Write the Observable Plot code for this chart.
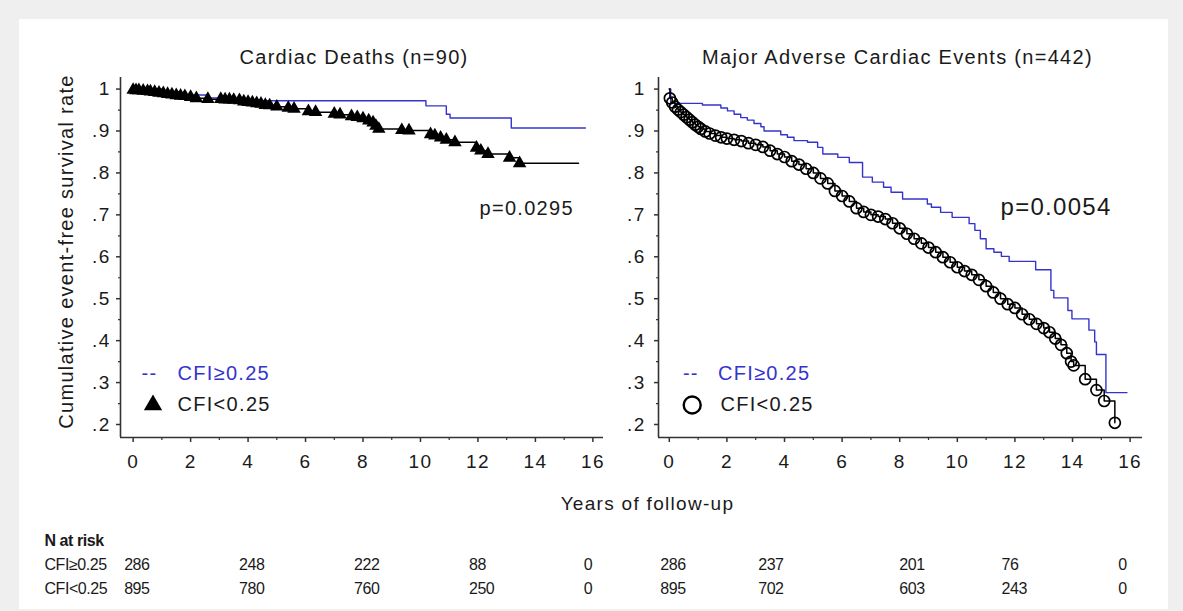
<!DOCTYPE html>
<html><head><meta charset="utf-8">
<script src="https://cdn.jsdelivr.net/npm/d3@7"></script>
<script src="https://cdn.jsdelivr.net/npm/@observablehq/plot@0.6"></script>
<style>
html,body{margin:0;padding:0;background:#efefef;width:1183px;height:611px;overflow:hidden;font-family:"Liberation Sans",Arial,Helvetica,sans-serif;}
#sheet{position:absolute;left:19px;top:19px;width:1149px;height:590px;background:#fff;}
.abs{position:absolute;}
.abs svg{overflow:visible;display:block;}
svg text{letter-spacing:1.3px;}
#tblL svg text,#tblR svg text{letter-spacing:-0.45px;}
#xlabel{position:absolute;left:447.5px;width:400px;top:494px;text-align:center;font-size:19px;line-height:19px;letter-spacing:1.3px;color:#1a1a1a;}
</style></head>
<body>
<div id="sheet"></div>
<div id="pL" class="abs" style="left:0;top:0;width:620px;height:480px"></div>
<div id="pR" class="abs" style="left:620px;top:0;width:563px;height:480px"></div>
<div id="xlabel">Years of follow-up</div>
<div id="tblL" class="abs" style="left:0;top:520px;width:620px;height:85px"></div>
<div id="tblR" class="abs" style="left:620px;top:520px;width:563px;height:85px"></div>
<script>
// ---------- data ----------
const groups = ["CFI≥0.25", "CFI<0.25"];
const titles = ["Cardiac Deaths (n=90)", "Major Adverse Cardiac Events (n=442)"];
const pValues = ["p=0.0295", "p=0.0054"];
const yAxisLabel = "Cumulative event-free survival rate";
const xTickMajor = [0, 2, 4, 6, 8, 10, 12, 14, 16];
const xTickMinor = [1, 3, 5, 7, 9, 11, 13, 15];
const yTickMajor = [0.2, 0.3, 0.4, 0.5, 0.6, 0.7, 0.8, 0.9, 1.0];
const yTickMinor = [0.25, 0.35, 0.45, 0.55, 0.65, 0.75, 0.85, 0.95];

// Cardiac deaths, CFI>=0.25 (blue step curve)
const cdHighT = [0, 1.0, 1.65, 2.6, 3.0, 4.2, 10.19, 10.9, 11.03, 13.16, 15.74];
const cdHighS = [1.0, 0.994, 0.986, 0.979, 0.974, 0.972, 0.960, 0.94, 0.931, 0.907, 0.907];
// Cardiac deaths, CFI<0.25 (black step curve with triangle marks)
const cdLowMarkT = [0.0, 0.1, 0.2, 0.35, 0.5, 0.6, 0.75, 0.9, 1.05, 1.2, 1.35, 1.5, 1.65, 1.8, 2.0, 2.2, 2.6, 3.05, 3.2, 3.35, 3.5, 3.7, 3.85, 4.0, 4.15, 4.3, 4.45, 4.6, 4.75, 5.0, 5.4, 5.6, 6.1, 6.35, 7.0, 7.2, 7.6, 7.8, 8.0, 8.2, 8.35, 8.45, 8.55, 9.35, 9.6, 10.35, 10.5, 10.7, 10.9, 11.2, 11.95, 12.1, 12.35, 13.1, 13.45];
const cdLowMarkS = [0.998, 0.997, 0.997, 0.996, 0.995, 0.994, 0.993, 0.991, 0.99, 0.988, 0.987, 0.985, 0.984, 0.983, 0.981, 0.978, 0.976, 0.976, 0.975, 0.975, 0.974, 0.973, 0.97, 0.969, 0.968, 0.966, 0.965, 0.962, 0.961, 0.958, 0.955, 0.953, 0.947, 0.945, 0.941, 0.939, 0.935, 0.933, 0.93, 0.925, 0.92, 0.912, 0.905, 0.902, 0.901, 0.892, 0.889, 0.884, 0.879, 0.873, 0.86, 0.853, 0.845, 0.836, 0.823];
const cdLowStart = [0, 1.0];
const cdLowEnd = [15.5, 0.823];

// MACE, CFI>=0.25 (blue)
const maceHighT = [0, 0.05, 1.15, 1.79, 2.02, 2.25, 2.48, 2.71, 2.94, 3.18, 3.29, 3.87, 4.1, 4.33, 4.8, 5.15, 5.33, 5.85, 6.25, 6.71, 7.05, 7.44, 7.7, 8.1, 8.96, 9.1, 9.42, 9.82, 10.41, 10.61, 10.8, 11.0, 11.27, 11.53, 11.8, 12.72, 13.25, 13.35, 13.84, 13.98, 14.57, 14.77, 14.83, 15.16, 15.89];
const maceHighS = [1.0, 0.966, 0.962, 0.955, 0.948, 0.94, 0.932, 0.926, 0.918, 0.91, 0.9, 0.891, 0.885, 0.877, 0.873, 0.861, 0.845, 0.837, 0.825, 0.79, 0.778, 0.766, 0.754, 0.738, 0.726, 0.718, 0.706, 0.694, 0.679, 0.663, 0.643, 0.619, 0.611, 0.601, 0.589, 0.569, 0.52, 0.502, 0.472, 0.452, 0.425, 0.397, 0.367, 0.276, 0.276];
// MACE, CFI<0.25 (black with open circles)
const maceLowT = [0, 0.02, 0.1, 0.2, 0.3, 0.4, 0.5, 0.6, 0.7, 0.8, 0.9, 1.0, 1.1, 1.25, 1.4, 1.6, 1.8, 2.0, 2.25, 2.5, 2.75, 3.0, 3.25, 3.5, 3.75, 4.0, 4.25, 4.5, 4.75, 5.0, 5.25, 5.5, 5.75, 6.0, 6.25, 6.5, 6.75, 7.0, 7.25, 7.5, 7.75, 8.0, 8.25, 8.5, 8.75, 9.0, 9.25, 9.5, 9.75, 10.0, 10.25, 10.5, 10.75, 11.0, 11.25, 11.5, 11.75, 12.0, 12.25, 12.5, 12.75, 13.0, 13.2, 13.4, 13.6, 13.8, 13.95, 14.04, 14.44, 14.83, 15.1, 15.47];
const maceLowS = [1.0, 0.978, 0.968, 0.958, 0.951, 0.945, 0.939, 0.933, 0.927, 0.921, 0.915, 0.91, 0.905, 0.899, 0.894, 0.889, 0.885, 0.882, 0.879, 0.876, 0.871, 0.867, 0.862, 0.853, 0.845, 0.838, 0.828, 0.82, 0.81, 0.80, 0.787, 0.775, 0.757, 0.745, 0.732, 0.716, 0.707, 0.70, 0.696, 0.69, 0.68, 0.668, 0.655, 0.643, 0.632, 0.622, 0.611, 0.599, 0.587, 0.575, 0.566, 0.557, 0.545, 0.53, 0.515, 0.5, 0.487, 0.478, 0.463, 0.451, 0.44, 0.43, 0.42, 0.405, 0.39, 0.37, 0.35, 0.341, 0.308, 0.282, 0.256, 0.204];

// Numbers at risk
const cdRiskAt = [0, 4, 8, 12, 16];
const cdRiskHigh = [286, 248, 222, 88, 0];
const cdRiskLow = [895, 780, 760, 250, 0];
const maceRiskAt = [0, 3.4, 8.3, 11.85, 15.9];
const maceRiskHigh = [286, 237, 201, 76, 0];
const maceRiskLow = [895, 702, 603, 243, 0];

// ---------- helpers ----------
const zip = (T, S) => T.map((t, i) => ({t, s: S[i]}));
const blue = "#3434cc";
const ink = "#1a1a1a";
const axisInk = "#333";
const font = '"Liberation Sans", Arial, Helvetica, sans-serif';
const fmtY = d => d >= 1 ? "1" : "." + Math.round(d * 10);
const yDomain = [0.169, 1.0276];
const xDomainL = [-0.44, 16.37];
const xDomainR = [-0.375, 16.43];
const H = 480, MT = 77, MB = 43;
const baseStyle = {background: "transparent", fontFamily: font, fontSize: "19px", color: ink, overflow: "visible"};

function axes(xDomain, tickPadY) {
  return [
    Plot.ruleX([xDomain[0]], {stroke: axisInk, strokeWidth: 1.6}),
    Plot.ruleY([yDomain[0]], {stroke: axisInk, strokeWidth: 1.6}),
    Plot.axisX(xTickMajor, {tickSize: 5, tickPadding: 12, fontSize: 19, label: null, stroke: axisInk, strokeWidth: 1.5}),
    Plot.axisX(xTickMinor, {tickSize: 3, tickFormat: () => "", label: null, stroke: axisInk, strokeWidth: 1.2}),
    Plot.axisY(yTickMajor, {tickSize: 4, tickPadding: tickPadY, tickFormat: fmtY, fontSize: 19, label: null, stroke: axisInk, strokeWidth: 1.5}),
    Plot.axisY(yTickMinor, {tickSize: 2, tickFormat: () => "", label: null, stroke: axisInk, strokeWidth: 1.2})
  ];
}

// ---------- left panel ----------
const cdHigh = zip(cdHighT, cdHighS);
const cdLowMarks = zip(cdLowMarkT, cdLowMarkS);
const cdLow = [{t: cdLowStart[0], s: cdLowStart[1]}, ...cdLowMarks, {t: cdLowEnd[0], s: cdLowEnd[1]}];

const left = Plot.plot({
  width: 620, height: H, marginLeft: 120, marginRight: 17, marginTop: MT, marginBottom: MB,
  x: {domain: xDomainL}, y: {domain: yDomain},
  style: baseStyle,
  marks: [
    ...axes(xDomainL, 6),
    Plot.line(cdHigh, {x: "t", y: "s", curve: "step-after", stroke: blue, strokeWidth: 1.4}),
    Plot.line(cdLow, {x: "t", y: "s", curve: "step-after", stroke: "black", strokeWidth: 1.5}),
    Plot.dot(cdLowMarks, {x: "t", y: "s", symbol: "triangle", r: 5, fill: "black"}),
    Plot.text([titles[0]], {frameAnchor: "top", dx: -8, dy: -13.5, lineAnchor: "bottom", fontSize: 20}),
    Plot.text([pValues[0]], {frameAnchor: "top-left", dx: 359, dy: 137, textAnchor: "start", lineAnchor: "bottom", fontSize: 20}),
    Plot.text([yAxisLabel], {frameAnchor: "left", rotate: -90, dx: -54, dy: -6, lineAnchor: "middle", textAnchor: "middle", fontSize: 20}),
    Plot.text(["--"], {frameAnchor: "bottom-left", dx: 21, dy: -64.3, textAnchor: "start", lineAnchor: "middle", fontSize: 20, fill: blue}),
    Plot.text([groups[0]], {frameAnchor: "bottom-left", dx: 57, dy: -64.3, textAnchor: "start", lineAnchor: "middle", fontSize: 20, fill: blue}),
    Plot.dot([groups[1]], {frameAnchor: "bottom-left", dx: 32.5, dy: -32.5, symbol: "triangle", r: 6.8, fill: "black"}),
    Plot.text([groups[1]], {frameAnchor: "bottom-left", dx: 57, dy: -32.5, textAnchor: "start", lineAnchor: "middle", fontSize: 20, fill: ink})
  ]
});
document.getElementById("pL").append(left);

// ---------- right panel ----------
const maceHigh = zip(maceHighT, maceHighS);
const maceLow = zip(maceLowT, maceLowS);

const right = Plot.plot({
  width: 563, height: H, marginLeft: 38, marginRight: 41, marginTop: MT, marginBottom: MB,
  x: {domain: xDomainR}, y: {domain: yDomain},
  style: baseStyle,
  marks: [
    ...axes(xDomainR, 9),
    Plot.line(maceHigh, {x: "t", y: "s", curve: "step-after", stroke: blue, strokeWidth: 1.4}),
    Plot.line(maceLow, {x: "t", y: "s", curve: "step-after", stroke: "black", strokeWidth: 1.5}),
    Plot.dot(maceLow.slice(1), {x: "t", y: "s", r: 5.5, stroke: "black", strokeWidth: 1.7, fill: "none"}),
    Plot.text([titles[1]], {frameAnchor: "top", dx: -3, dy: -13.5, lineAnchor: "bottom", fontSize: 20}),
    Plot.text([pValues[1]], {frameAnchor: "top-left", dx: 342, dy: 137, textAnchor: "start", lineAnchor: "bottom", fontSize: 24}),
    Plot.text(["--"], {frameAnchor: "bottom-left", dx: 24.4, dy: -64.3, textAnchor: "start", lineAnchor: "middle", fontSize: 20, fill: blue}),
    Plot.text([groups[0]], {frameAnchor: "bottom-left", dx: 59.4, dy: -64.3, textAnchor: "start", lineAnchor: "middle", fontSize: 20, fill: blue}),
    Plot.dot([groups[1]], {frameAnchor: "bottom-left", dx: 33.7, dy: -32.5, r: 8.5, stroke: "black", strokeWidth: 2.4, fill: "none"}),
    Plot.text([groups[1]], {frameAnchor: "bottom-left", dx: 62, dy: -32.5, textAnchor: "start", lineAnchor: "middle", fontSize: 20, fill: ink})
  ]
});
document.getElementById("pR").append(right);

// ---------- numbers at risk ----------
const tblFont = font;
const tblSize = 16;
const header = "N at risk";
const rowDomain = [header, ...groups];

function riskRows(at, hi, lo) {
  return [
    ...at.map((t, i) => ({t, group: groups[0], n: hi[i]})),
    ...at.map((t, i) => ({t, group: groups[1], n: lo[i]}))
  ];
}
function table(width, mL, mR, xDomain, rows, withLabels) {
  return Plot.plot({
    width, height: 85, marginLeft: mL, marginRight: mR, marginTop: 25, marginBottom: 12,
    x: {domain: xDomain, axis: null},
    y: {type: "point", domain: rowDomain, padding: 0, axis: null},
    style: {...baseStyle, fontFamily: tblFont, fontSize: tblSize + "px"},
    marks: [
      withLabels ? Plot.text([header], {y: d => d, frameAnchor: "left", dx: 44 - mL, textAnchor: "start", lineAnchor: "bottom", fontWeight: "bold", fontSize: tblSize}) : null,
      withLabels ? Plot.text(groups, {y: d => d, frameAnchor: "left", dx: 44 - mL, textAnchor: "start", lineAnchor: "bottom", fontSize: tblSize}) : null,
      Plot.text(rows, {x: "t", y: "group", text: d => String(d.n), dx: -9, textAnchor: "start", lineAnchor: "bottom", fontSize: tblSize})
    ]
  });
}
document.getElementById("tblL").append(table(620, 120, 17, xDomainL, riskRows(cdRiskAt, cdRiskHigh, cdRiskLow), true));
document.getElementById("tblR").append(table(563, 38, 41, xDomainR, riskRows(maceRiskAt, maceRiskHigh, maceRiskLow), false));
</script>
</body></html>
